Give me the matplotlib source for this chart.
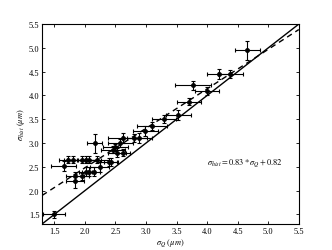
import matplotlib
matplotlib.use('Agg')
import matplotlib.pyplot as plt
import numpy as np

# sigma_Q vs sigma_hist measurements (um) with errors
sigma_q = [1.50, 1.65, 1.73, 1.80, 1.84, 1.84, 1.95, 1.95, 2.01, 2.01, 2.06, 2.07,
           2.15, 2.16, 2.20, 2.24, 2.39, 2.42, 2.46, 2.50, 2.52, 2.58, 2.63, 2.63,
           2.81, 2.89, 2.99, 3.10, 3.29, 3.53, 3.70, 3.77, 4.00, 4.19, 4.38, 4.66]
sigma_hist = [1.50, 2.52, 2.65, 2.65, 2.20, 2.30, 2.30, 2.65, 2.40, 2.65, 2.40, 2.65,
              2.40, 3.00, 2.65, 2.50, 2.60, 2.60, 2.86, 2.91, 2.80, 3.00, 3.11, 2.80,
              3.11, 3.11, 3.25, 3.36, 3.50, 3.59, 3.87, 4.21, 4.09, 4.45, 4.45, 4.95]
err_q = [0.18, 0.20, 0.15, 0.15, 0.15, 0.15, 0.12, 0.25, 0.10, 0.20, 0.10, 0.20,
         0.10, 0.12, 0.20, 0.15, 0.15, 0.10, 0.20, 0.20, 0.15, 0.20, 0.25, 0.10,
         0.20, 0.20, 0.20, 0.25, 0.20, 0.20, 0.20, 0.30, 0.20, 0.20, 0.20, 0.20]
err_hist = [0.08, 0.10, 0.08, 0.08, 0.15, 0.10, 0.08, 0.08, 0.10, 0.08, 0.10, 0.08,
            0.10, 0.20, 0.08, 0.10, 0.08, 0.08, 0.08, 0.08, 0.10, 0.08, 0.10, 0.08,
            0.08, 0.10, 0.10, 0.08, 0.08, 0.10, 0.08, 0.10, 0.08, 0.10, 0.08, 0.20]
slope = 0.83
intercept = 0.82
ticks = [1.5, 2.0, 2.5, 3.0, 3.5, 4.0, 4.5, 5.0, 5.5]

plt.rcParams['font.family'] = ['Liberation Serif', 'DejaVu Serif']
plt.rcParams['mathtext.fontset'] = 'stix'

fig = plt.figure(figsize=(3.32, 2.51), dpi=100)
ax = fig.add_axes([0.127, 0.104, 0.773, 0.796])

lo, hi = 1.3, 5.5
ax.plot([lo, hi], [lo, hi], color='black', lw=1.0)
xf = np.array([lo, hi])
ax.plot(xf, slope * xf + intercept, color='black', lw=1.0, ls=(0, (4, 3)))
ax.errorbar(sigma_q, sigma_hist, xerr=err_q, yerr=err_hist, fmt='o', color='black',
            ms=2.5, elinewidth=0.8, capsize=1.5, capthick=0.8)

ax.text(4.62, 2.59, r'$\sigma_{hist} = 0.83 * \sigma_{Q} + 0.82$', fontsize=6,
        ha='center', va='center')

ax.set_xlim(lo, hi)
ax.set_ylim(lo, hi)
ax.set_xticks(ticks)
ax.set_yticks(ticks)
ax.set_xticklabels([f'{t:.1f}' for t in ticks])
ax.set_yticklabels([f'{t:.1f}' for t in ticks])
ax.tick_params(direction='in', top=True, right=True, labelsize=6, length=2.5, width=0.6, pad=2)
for s in ax.spines.values():
    s.set_linewidth(0.8)
ax.set_xlabel(r'$\sigma_Q\ (\mu m)$', fontsize=6, labelpad=1)
ax.set_ylabel(r'$\sigma_{hist}\ (\mu m)$', fontsize=6, labelpad=1)

fig.savefig('out.png', dpi=100)
